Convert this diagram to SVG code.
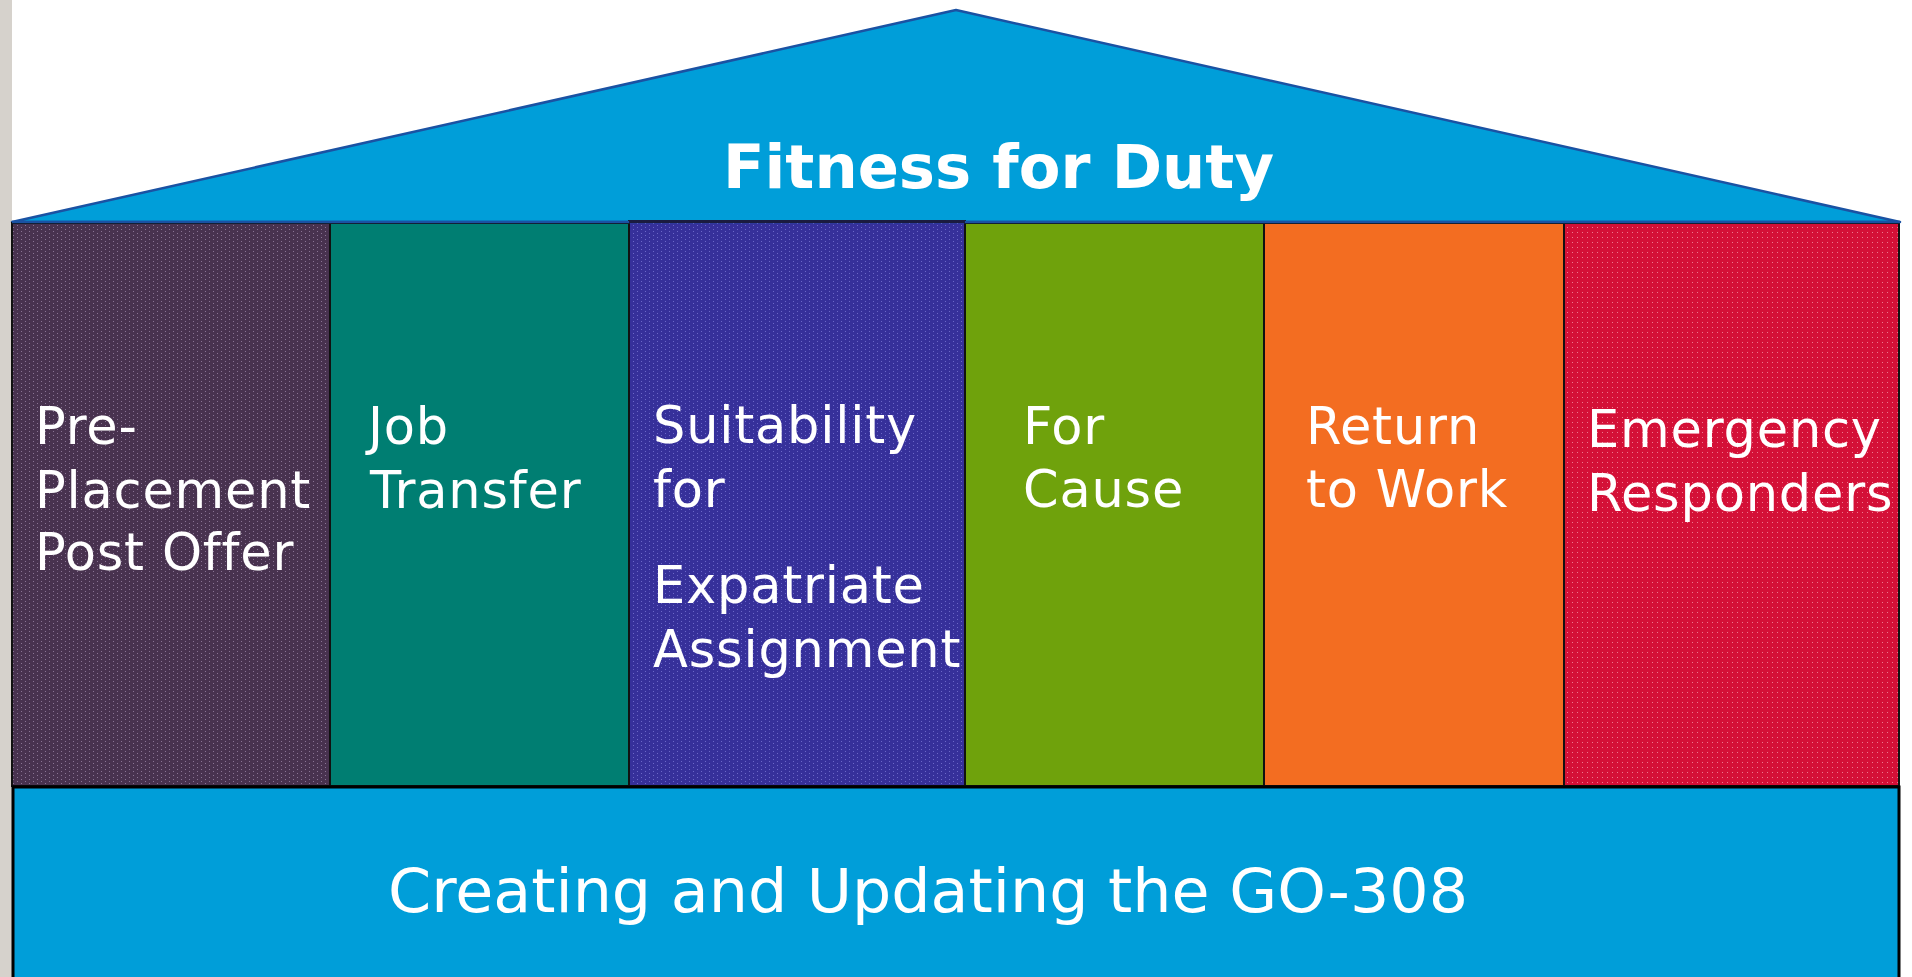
<svg xmlns="http://www.w3.org/2000/svg" width="1912" height="977" viewBox="0 0 1912 977">
  <defs>
    <pattern id="dotPurple" width="8" height="4" patternUnits="userSpaceOnUse">
      <rect width="8" height="4" fill="#48324f"/>
      <rect x="1" y="1" width="1" height="1" fill="#8a7494"/>
      <rect x="5" y="3" width="1" height="1" fill="#8a7494"/>
    </pattern>
    <pattern id="dotIndigo" width="8" height="4" patternUnits="userSpaceOnUse">
      <rect width="8" height="4" fill="#36309a"/>
      <rect x="1" y="1" width="1" height="1" fill="#6c68c8"/>
      <rect x="5" y="3" width="1" height="1" fill="#6c68c8"/>
    </pattern>
    <pattern id="dotRed" width="5" height="5" patternUnits="userSpaceOnUse">
      <rect width="5" height="5" fill="#d41037"/>
      <rect x="2" y="2" width="1" height="1" fill="#ec7a8e"/>
    </pattern>
  </defs>
  <style>
    .col { stroke: #111; stroke-width: 2; }
    .lbl { font-family: "DejaVu Sans", "Liberation Sans", sans-serif; font-size: 51px; fill: #ffffff; letter-spacing: 0.8px; }
    .title { font-family: "DejaVu Sans", "Liberation Sans", sans-serif; font-weight: bold; font-size: 60px; fill: #ffffff; }
    .base { font-family: "DejaVu Sans", "Liberation Sans", sans-serif; font-size: 60px; fill: #ffffff; }
  </style>
  <rect x="0" y="0" width="1912" height="977" fill="#ffffff"/>
  <rect x="0" y="0" width="12" height="977" fill="#d6d2cc"/>

  <g id="roof">
    <polygon points="12,222 956,10 1900,222" fill="#009ed9" stroke="#1a52a3" stroke-width="2.5" stroke-linejoin="round"/>
    <text class="title" x="723" y="188" textLength="551" lengthAdjust="spacingAndGlyphs">Fitness for Duty</text>
  </g>

  <g id="pre-placement">
    <rect class="col" x="12" y="223" width="318" height="563" fill="url(#dotPurple)"/>
    <text class="lbl"><tspan x="35" y="444">Pre-</tspan><tspan x="35" y="508">Placement</tspan><tspan x="35" y="570">Post Offer</tspan></text>
  </g>

  <g id="job-transfer">
    <rect class="col" x="330" y="223" width="299" height="563" fill="#007e72"/>
    <text class="lbl"><tspan x="368" y="444">Job</tspan><tspan x="370" y="508">Transfer</tspan></text>
  </g>

  <g id="suitability">
    <rect class="col" x="629" y="221" width="336" height="565" fill="url(#dotIndigo)"/>
    <text class="lbl"><tspan x="653" y="443">Suitability</tspan><tspan x="653" y="507">for</tspan><tspan x="653" y="603">Expatriate</tspan><tspan x="653" y="667">Assignment</tspan></text>
  </g>

  <g id="for-cause">
    <rect class="col" x="965" y="223" width="299" height="563" fill="#6fa20c"/>
    <text class="lbl"><tspan x="1023" y="444">For</tspan><tspan x="1023" y="507">Cause</tspan></text>
  </g>

  <g id="return-to-work">
    <rect class="col" x="1264" y="223" width="300" height="563" fill="#f36d21"/>
    <text class="lbl"><tspan x="1306" y="444">Return</tspan><tspan x="1306" y="507">to Work</tspan></text>
  </g>

  <g id="emergency-responders">
    <rect class="col" x="1564" y="223" width="335" height="563" fill="url(#dotRed)"/>
    <text class="lbl"><tspan x="1587" y="447">Emergency</tspan><tspan x="1587" y="511">Responders</tspan></text>
  </g>

  <line x1="12" y1="222" x2="1900" y2="222" stroke="#1a52a3" stroke-width="2.5"/>
  <rect x="629" y="220" width="336" height="3" fill="#1b1b40"/>

  <g id="go-308">
    <rect x="13" y="787" width="1886" height="192" fill="#009ed9" stroke="#000" stroke-width="3"/>
    <text class="base" x="388" y="912" textLength="1080" lengthAdjust="spacingAndGlyphs">Creating and Updating the GO-308</text>
  </g>

  <g id="connectors"/>
</svg>
